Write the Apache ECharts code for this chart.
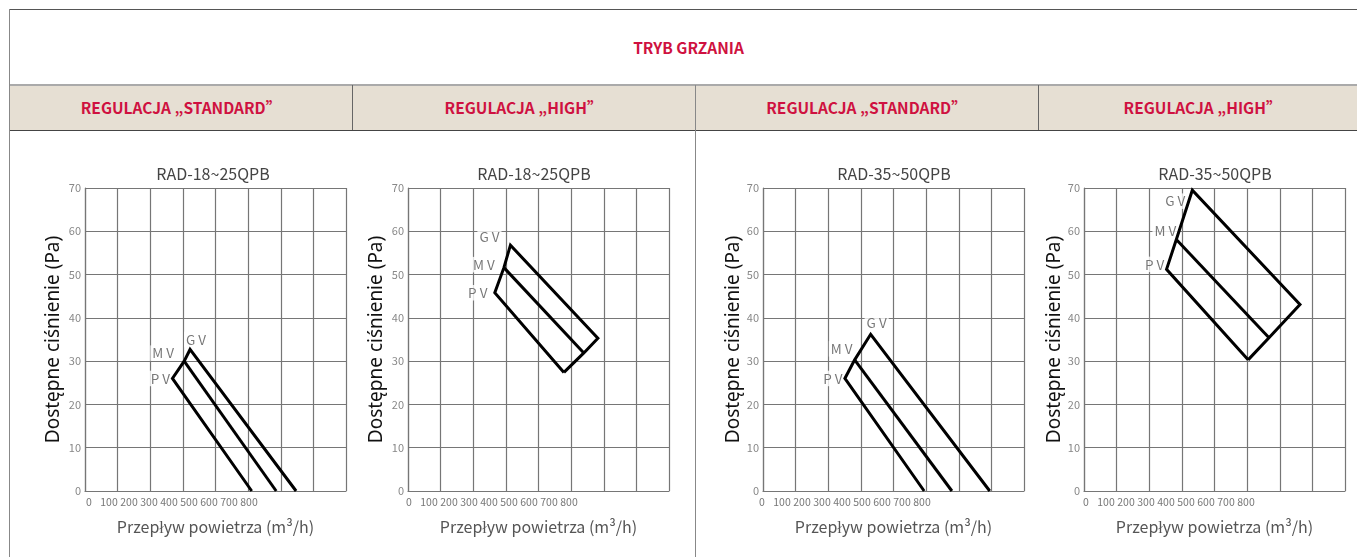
<!DOCTYPE html>
<html>
<head>
<meta charset="utf-8">
<title>Tryb grzania</title>
<script src="https://cdn.jsdelivr.net/npm/echarts@6/dist/echarts.min.js"></script>
<style>
  body { margin: 0; background: #fff; overflow: hidden; }
  #wrap { position: relative; width: 1357px; height: 557px; overflow: hidden; }
  .ln { position: absolute; }
  .hd { position: absolute; color: #cf1140; font: 700 15.5px 'Noto Sans CJK SC', sans-serif; text-align: center; }
  #chart { position: absolute; left: 0; top: 0; width: 1357px; height: 557px; }
</style>
</head>
<body>
<div id="wrap">
  <!-- table header -->
  <div class="ln" style="left:10px;top:85px;width:1357px;height:45px;background:#e6dfd3"></div>
  <div class="ln" style="left:9px;top:9px;width:1360px;height:1px;background:#555"></div>
  <div class="ln" style="left:9px;top:9px;width:1px;height:548px;background:#888"></div>
  <div class="ln" style="left:10px;top:84px;width:1357px;height:2px;background:#aaa"></div>
  <div class="ln" style="left:10px;top:130px;width:1357px;height:1px;background:#444"></div>
  <div class="ln" style="left:352px;top:85px;width:1px;height:45px;background:#666"></div>
  <div class="ln" style="left:695px;top:85px;width:1px;height:472px;background:#888"></div>
  <div class="ln" style="left:1038px;top:85px;width:1px;height:45px;background:#666"></div>
  <div class="hd" style="left:10px;width:1357px;top:37px;line-height:20px">TRYB GRZANIA</div>
  <div class="hd" style="left:10px;width:342px;top:85px;line-height:45px">REGULACJA „STANDARD”</div>
  <div class="hd" style="left:352px;width:343px;top:85px;line-height:45px">REGULACJA „HIGH”</div>
  <div class="hd" style="left:695px;width:343px;top:85px;line-height:45px">REGULACJA „STANDARD”</div>
  <div class="hd" style="left:1038px;width:329px;top:85px;line-height:45px">REGULACJA „HIGH”</div>
  <div id="chart"></div>
</div>
<script>
// chart data
var chartTitles = ['RAD-18~25QPB', 'RAD-18~25QPB', 'RAD-35~50QPB', 'RAD-35~50QPB'];
var speedNames = ['P V', 'M V', 'G V'];
var xTicks = [0, 100, 200, 300, 400, 500, 600, 700, 800];
var yTicks = [0, 10, 20, 30, 40, 50, 60, 70];
var xName = 'Przepływ powietrza (m³/h)';
var yName = 'Dostępne ciśnienie (Pa)';

// each speed: [top point, end point]
var rad18StdPV = [[268, 26], [511, 0]];
var rad18StdMV = [[304, 30], [586, 0]];
var rad18StdGV = [[322, 32.7], [647, 0]];

var rad18HighPV = [[266, 45.8], [478, 27.4]];
var rad18HighMV = [[294, 51.6], [539, 31.9]];
var rad18HighGV = [[314, 56.8], [582, 35.3]];

var rad35StdPV = [[251, 26], [494, 0]];
var rad35StdMV = [[281, 30.3], [579, 0]];
var rad35StdGV = [[330, 36.2], [695, 0]];

var rad35HighPV = [[253, 51.2], [503, 30.3]];
var rad35HighMV = [[283, 58.1], [567, 35.4]];
var rad35HighGV = [[332, 69.5], [662, 43.1]];

var panels = [
  { pv: rad18StdPV, mv: rad18StdMV, gv: rad18StdGV, closed: false },
  { pv: rad18HighPV, mv: rad18HighMV, gv: rad18HighGV, closed: true },
  { pv: rad35StdPV, mv: rad35StdMV, gv: rad35StdGV, closed: false },
  { pv: rad35HighPV, mv: rad35HighMV, gv: rad35HighGV, closed: true }
];

// layout
var gridLefts = [85, 408, 763, 1084];
var titleCenters = [208, 529, 889, 1210];
var tickLabelLefts = [89, 409, 762, 1086];
var yNameGaps = [22, 22, 19, 20];
var labelOffsets = [
  [[-12, 0], [-21, -8], [6, -10]],
  [[-17, 0], [-20, -3], [-21, -8]],
  [[-12, 0], [-13, -11], [6, -11]],
  [[-12, -5], [-11, -9], [-17, 11]]
];

var FONT = 'Noto Sans CJK SC';
var GRID_COLOR = '#767676';

function BuildOption() {
  var grid = [], xAxis = [], yAxis = [], series = [], title = [];
  var xMax = xTicks[xTicks.length - 1];
  var yMax = yTicks[yTicks.length - 1];

  panels.forEach(function (p, i) {
    grid.push({ left: gridLefts[i], top: 188, width: 261, height: 303 });
    title.push({
      text: chartTitles[i],
      left: titleCenters[i],
      top: 161,
      textAlign: 'center',
      textStyle: { fontFamily: FONT, fontSize: 16, fontWeight: 'normal', color: '#444' }
    });
    xAxis.push({
      type: 'value', gridIndex: i, min: 0, max: xMax, interval: 100,
      axisLabel: { show: false },
      axisTick: { show: false },
      axisLine: { lineStyle: { color: GRID_COLOR, width: 1.2 } },
      splitLine: { lineStyle: { color: GRID_COLOR, width: 1.2 } },
      name: xName, nameLocation: 'middle', nameGap: 28,
      nameTextStyle: { fontFamily: FONT, fontSize: 16, color: '#555' }
    });
    yAxis.push({
      type: 'value', gridIndex: i, min: 0, max: yMax, interval: 10,
      axisLabel: { fontFamily: FONT, fontSize: 11, color: '#888', margin: 4 },
      axisTick: { show: false },
      axisLine: { show: true, lineStyle: { color: GRID_COLOR, width: 1.2 } },
      splitLine: { lineStyle: { color: GRID_COLOR, width: 1.2 } },
      name: yName, nameLocation: 'middle', nameGap: yNameGaps[i],
      nameTextStyle: { fontFamily: 'Noto Sans', fontSize: 19, color: '#111' }
    });

    var outline = p.closed
      ? [p.pv[1], p.pv[0], p.mv[0], p.gv[0], p.gv[1], p.mv[1], p.pv[1]]
      : [p.pv[1], p.pv[0], p.mv[0], p.gv[0], p.gv[1]];
    var lineStyle = { color: '#000', width: 3, join: 'miter' };
    series.push({
      type: 'line', xAxisIndex: i, yAxisIndex: i, data: outline,
      showSymbol: false, lineStyle: lineStyle, z: 5, silent: true
    });
    series.push({
      type: 'line', xAxisIndex: i, yAxisIndex: i, data: [p.mv[0], p.mv[1]],
      showSymbol: false, lineStyle: lineStyle, z: 5, silent: true
    });
    series.push({
      type: 'scatter', xAxisIndex: i, yAxisIndex: i, symbolSize: 0, z: 3, silent: true,
      data: [p.pv[0], p.mv[0], p.gv[0]].map(function (pt, k) {
        return {
          value: pt,
          name: speedNames[k],
          label: { offset: labelOffsets[i][k] }
        };
      }),
      label: {
        show: true, position: 'inside', formatter: '{b}',
        fontFamily: FONT, fontSize: 13.5, color: '#555',
        backgroundColor: '#fff', padding: [1, 2]
      }
    });
  });

  // compressed tick label rows under each chart
  panels.forEach(function (p, i) {
    var gi = panels.length + i;
    grid.push({ left: tickLabelLefts[i], top: 490, width: 160, height: 1 });
    xAxis.push({
      type: 'value', gridIndex: gi, min: xTicks[0], max: xMax, interval: 100,
      axisLine: { show: false }, axisTick: { show: false }, splitLine: { show: false },
      axisLabel: { fontFamily: FONT, fontSize: 10.5, color: '#777', margin: 6 }
    });
    yAxis.push({
      type: 'value', gridIndex: gi, min: 0, max: 1, show: false
    });
  });

  return {
    animation: false,
    title: title,
    grid: grid,
    xAxis: xAxis,
    yAxis: yAxis,
    series: series
  };
}

function init() {
  var myChart = echarts.init(document.getElementById('chart'));
  myChart.setOption(BuildOption());
}
window.onload = init
</script>
</body>
</html>
